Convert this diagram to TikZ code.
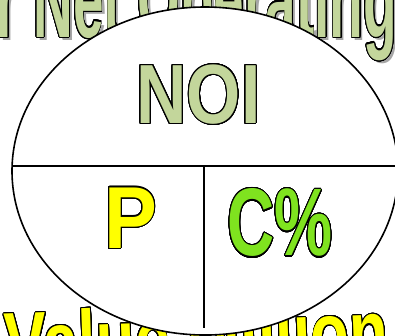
\documentclass[tikz,border=0pt]{standalone}
\usepackage{fontspec}
\usepackage{contour}
\newfontfamily\artfont{Liberation Sans}
\definecolor{noigreen}{HTML}{C3D69B}
\definecolor{pyellow}{HTML}{FFFF00}
\definecolor{capgreen}{HTML}{7FE31F}
\definecolor{shadowgray}{HTML}{A6A6A6}
\contourlength{1.2pt}
\contournumber{32}
% letras gruesas con borde negro
\newcommand{\arttext}[3]{\scalebox{#1}[1]{\fontsize{#2}{#2}\selectfont\artfont\bfseries\contour{black}{#3}}}
\newcommand{\plaintext}[3]{\scalebox{#1}[1]{\fontsize{#2}{#2}\selectfont\artfont\bfseries #3}}

\begin{document}
\begin{tikzpicture}[x=1pt,y=-1pt,line width=1.6pt,
  bigletter/.style={inner sep=0pt}]
  \useasboundingbox (0,0) rectangle (395,335);
  \clip (0,0) rectangle (395,335);
  % rotulos detras del disco
  \node[bigletter,anchor=base west,text=shadowgray] (topshadow) at (-1,40) {\plaintext{0.5}{110}{r Net Operating}};
  \node[bigletter,anchor=base west,text=noigreen] (toptext) at (-4,37) {\arttext{0.5}{110}{r Net Operating}};
  \node[bigletter,anchor=base west,text=pyellow,rotate=2] (bottomtext) at (5,375) {\arttext{0.72}{88}{Value Million}};
  % disco partido
  \draw[fill=white] (205,171) ellipse [x radius=193, y radius=164];
  \draw (12.1,166) -- (397.9,166);
  \draw (204,166) -- (204,328);
  % letras
  \node[bigletter,text=noigreen] (noi) at (198.5,95) {\arttext{0.83}{84}{NOI}};
  \node[bigletter,text=pyellow] (price) at (130.5,218.5) {\arttext{0.9}{88}{P}};
  \node[bigletter,text=capgreen] (caprate) at (280,223.5) {\arttext{0.68}{96}{C\%}};
\end{tikzpicture}
\end{document}
